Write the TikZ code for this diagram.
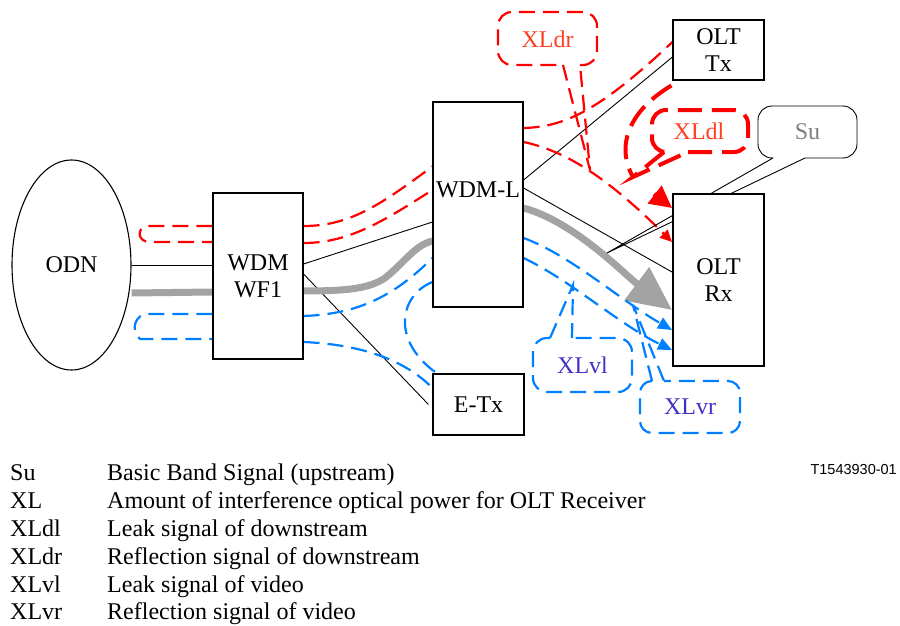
\documentclass[tikz,border=0pt]{standalone}
\usepackage{fontspec}
\setmainfont{Liberation Serif}
\newfontfamily\arialfont{Liberation Sans}
\usetikzlibrary{arrows.meta,shapes.geometric,backgrounds}
\definecolor{myred}{RGB}{255,0,0}
\definecolor{myblue}{RGB}{0,128,255}
\definecolor{mygray}{RGB}{163,163,163}
\definecolor{lblred}{RGB}{255,64,32}
\definecolor{lblblue}{RGB}{64,48,200}
\definecolor{sugray}{RGB}{128,128,128}
\begin{document}
\begin{tikzpicture}[x=1pt,y=-1pt, font=\fontsize{24}{27}\selectfont,
  box/.style={draw, line width=1.1pt, fill=white, inner sep=0pt, align=center},
  conn/.style={line width=0.9pt},
  fiber/.style={line width=7pt, mygray},
  reddash/.style={line width=2.2pt, myred, dash pattern=on 16pt off 8pt},
  bluedash/.style={line width=2.2pt, myblue, dash pattern=on 16pt off 8pt},
  xldlline/.style={line width=4pt, myred, dash pattern=on 24pt off 10pt},
  sucall/.style={line width=0.9pt},
  legend/.style={anchor=base west, inner sep=0pt}
]
\useasboundingbox (0,0) rectangle (900,626);

% nodes
\node[ellipse, draw, line width=1.1pt, fill=white, minimum width=119pt, minimum height=210pt, inner sep=0pt] (odn) at (71.5,265) {ODN};
\node[box, minimum width=90pt, minimum height=166pt] (wf1) at (258,276) {WDM\\WF1};
\node[box, minimum width=90pt, minimum height=205pt] (wdml) at (478,204.5) {};
\node (wdmltxt) at (478,190) {WDM-L};
\node[box, minimum width=91pt, minimum height=61pt] (etx) at (478.5,404.5) {E-Tx};
\node[box, minimum width=91pt, minimum height=60pt] (olttx) at (718.5,50) {OLT\\Tx};
\node[box, line width=2pt, minimum width=91pt, minimum height=172pt] (oltrx) at (718.5,280) {OLT\\Rx};

% callout texts
\node[text=lblred] (xldr) at (547.5,39) {XLdr};
\node[text=lblred] (xldl) at (699,131) {XLdl};
\node[text=sugray] (su) at (807.5,132) {Su};
\node[text=lblblue] (xlvl) at (582.5,365) {XLvl};
\node[text=lblblue] (xlvr) at (690,407) {XLvr};

\coordinate (xldrtip) at (590,170);
\coordinate (xldltip) at (633,177);
\coordinate (xldlarr) at (654,194);
\coordinate (sutip) at (607,253);
\coordinate (xlvltip) at (573,285);
\coordinate (xlvrtip) at (633,305);

\begin{scope}[on background layer]
% black connectors
\draw[conn] (odn.east) -- (odn.east -| wf1.west);
\draw[conn] ([yshift=12pt]wf1.east) -- ([yshift=-17.5pt]wdml.west);
\draw[conn] ([yshift=2pt]wf1.east) -- ([xshift=-4pt]etx.west);
\draw[conn] ([yshift=24.5pt]wdml.east) -- ([yshift=-7pt]olttx.west);
\draw[conn] ([yshift=16.5pt]wdml.east) -- ([yshift=8pt]oltrx.west);

% gray fibre (upstream)
\draw[fiber] ([yshift=-28pt]odn.east) -- ([yshift=-16pt]wf1.west);
\draw[fiber] ([yshift=-15pt]wf1.east) .. controls (350,291) and (370,288) .. (385,278) .. controls (405,262) and (415,245) .. ([yshift=-36.5pt]wdml.west);
\draw[fiber, -{Triangle[length=44pt,width=40pt]}] ([yshift=-3.5pt]wdml.east) .. controls (575,222) and (625,275) .. ([yshift=-30pt]oltrx.west);

% red dashed (downstream)
\draw[reddash] ([yshift=50pt]wf1.west) -- (148,226) .. controls (137,226) and (136,242) .. (150,242) -- ([yshift=34pt]wf1.west);
\draw[reddash] ([yshift=50pt]wf1.east) .. controls (350,226) and (380,205) .. ([yshift=38pt]wdml.west);
\draw[reddash] ([yshift=33pt]wf1.east) .. controls (350,243) and (385,220) .. ([yshift=14.5pt]wdml.west);
\draw[reddash] ([yshift=76.5pt]wdml.east) .. controls (565,127) and (600,110) .. ([yshift=8pt]olttx.west);
\draw[reddash, -{Triangle[length=12pt,width=11pt]}] ([yshift=62.5pt]wdml.east) .. controls (560,150) and (600,170) .. ([yshift=38pt]oltrx.west);

% XLdl leak
\draw[xldlline] ([xshift=-1pt,yshift=-5pt]olttx.south west) .. controls (630,110) and (615,145) .. (xldltip);
\draw[line width=4pt, myred, -{Triangle[length=22pt,width=22pt]}] (xldlarr) -- ([yshift=72pt]oltrx.west);

% blue dashed (video)
\draw[bluedash] ([yshift=-38pt]wf1.west) -- (148,314) .. controls (135,314) and (130,330) .. (140,339) -- ([yshift=-63pt]wf1.west);
\draw[bluedash] ([yshift=-40pt]wf1.east) .. controls (360,314) and (395,295) .. ([yshift=-53.5pt]wdml.west);
\draw[bluedash] ([yshift=-66pt]wf1.east) .. controls (350,344) and (400,355) .. ([yshift=16.5pt]etx.west);
\draw[bluedash] ([yshift=-77.5pt]wdml.west) .. controls (400,295) and (390,340) .. ([xshift=-41.5pt]etx.north);
\draw[bluedash, -{Triangle[length=14pt,width=12pt]}] ([yshift=-33.5pt]wdml.east) .. controls (570,255) and (620,300) .. ([yshift=-50pt]oltrx.west);
\draw[bluedash, -{Triangle[length=14pt,width=12pt]}] ([yshift=-53.5pt]wdml.east) .. controls (570,280) and (620,325) .. ([yshift=-70pt]oltrx.west);

% callouts
\draw[reddash, rounded corners=14pt] (580,65) -- (597,65) -- (597,12) -- (498,12) -- (498,65) -- (563,65);
\draw[reddash] (563,65) -- (xldrtip) -- (580,65);

\draw[xldlline, rounded corners=14pt] (688,152) -- (748,152) -- (748,110) -- (652,110) -- (652,152) -- (664,152);
\draw[xldlline] (664,152) -- (xldltip) -- (688,152);

\draw[sucall, rounded corners=14pt] (805,158) -- (857,158) -- (857,106) -- (758,106) -- (758,158) -- (773,158);
\draw[sucall] (773,158) -- (sutip) -- (805,158);

\draw[bluedash, rounded corners=14pt] (550,338) -- (533,338) -- (533,392) -- (632,392) -- (632,338) -- (572,338);
\draw[bluedash] (550,338) -- (xlvltip) -- (572,338);

\draw[bluedash, rounded corners=12pt] (652,381) -- (640,381) -- (640,433) -- (740,433) -- (740,381) -- (664,381);
\draw[bluedash] (652,381) -- (xlvrtip) -- (664,381);
\end{scope}

% legend
\node[legend] (l1a) at (10,480) {Su};
\node[legend] (l1b) at (107,480) {Basic Band Signal (upstream)};
\node[legend] (l2a) at (10,508) {XL};
\node[legend] (l2b) at (107,508) {Amount of interference optical power for OLT Receiver};
\node[legend] (l3a) at (10,536) {XLdl};
\node[legend] (l3b) at (107,536) {Leak signal of downstream};
\node[legend] (l4a) at (10,564) {XLdr};
\node[legend] (l4b) at (107,564) {Reflection signal of downstream};
\node[legend] (l5a) at (10,592) {XLvl};
\node[legend] (l5b) at (107,592) {Leak signal of video};
\node[legend] (l6a) at (10,619) {XLvr};
\node[legend] (l6b) at (107,619) {Reflection signal of video};
\node[anchor=east, inner sep=0pt, font=\arialfont\fontsize{14.5}{16}\selectfont] (tnum) at (897,470) {T1543930-01};
\end{tikzpicture}
\end{document}
